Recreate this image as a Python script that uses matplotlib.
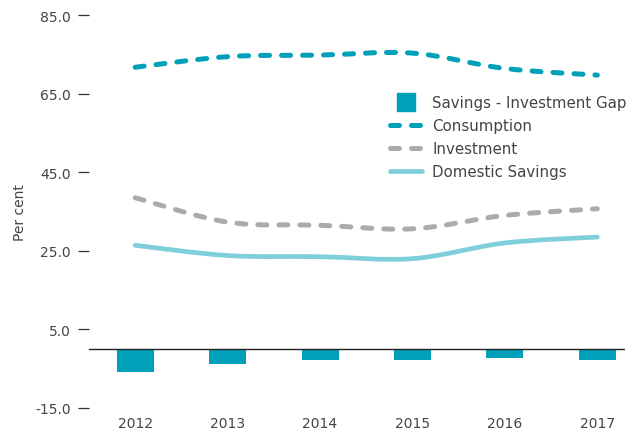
import numpy as np
import matplotlib.pyplot as plt
from matplotlib.path import Path
from matplotlib.patches import PathPatch
from matplotlib.lines import Line2D

years = ['2012', '2013', '2014', '2015', '2016', '2017']
consumption = [71.7, 74.4, 74.8, 75.3, 71.4, 69.7]
investment = [38.5, 32.3, 31.5, 30.6, 34.0, 35.7]
domestic_savings = [26.4, 23.8, 23.5, 23.0, 27.0, 28.5]
gap = [-5.9, -3.7, -2.8, -2.8, -2.3, -2.8]

TEAL = '#00A0B8'
GREY = '#ABABAB'
LIGHT = '#7ECFDA'
TEXT = '#444444'


def smooth_path(x, y):
    # catmull-rom segments turned into cubic bezier pieces
    pts = np.column_stack([x, y]).astype(float)
    n = len(pts)
    verts = [pts[0]]
    codes = [Path.MOVETO]
    for i in range(n - 1):
        p0 = pts[max(i - 1, 0)]
        p1 = pts[i]
        p2 = pts[i + 1]
        p3 = pts[min(i + 2, n - 1)]
        c1 = p1 + (p2 - p0) / 6.0
        c2 = p2 - (p3 - p1) / 6.0
        verts += [c1, c2, p2]
        codes += [Path.CURVE4] * 3
    return Path(verts, codes)


def draw_curve(ax, x, y, color, lw, dashed):
    patch = PathPatch(smooth_path(x, y), fill=False, edgecolor=color,
                      linewidth=lw, capstyle='round', joinstyle='round')
    if dashed:
        patch.set_linestyle((0, (1.8, 2.4)))
    ax.add_patch(patch)


fig = plt.figure(figsize=(6.4, 4.31), dpi=100)
ax = fig.add_axes([89 / 640, 22 / 431, 536 / 640, 393 / 431])

x = np.arange(len(years))
ax.bar(x, gap, width=0.4, color=TEAL, zorder=2)
ax.axhline(0, color='#222222', linewidth=1.0, zorder=3)

draw_curve(ax, x, consumption, TEAL, 3.6, True)
draw_curve(ax, x, investment, GREY, 3.6, True)
draw_curve(ax, x, domestic_savings, LIGHT, 3.4, False)

ax.set_xlim(-0.5, 5.3)
ax.set_ylim(-15, 85)
ax.set_yticks([-15, 5, 25, 45, 65, 85])
ax.set_yticklabels(['%.1f' % v for v in [-15, 5, 25, 45, 65, 85]])
ax.set_xticks(x)
ax.set_xticklabels(years)
for s in ax.spines.values():
    s.set_visible(False)
ax.tick_params(axis='y', length=8, width=0.9, color='#333333', pad=5,
               labelsize=10, labelcolor=TEXT)
ax.tick_params(axis='x', length=0, pad=6, labelsize=10, labelcolor=TEXT)
ax.set_ylabel('Per cent', fontsize=10, color=TEXT, labelpad=6)

handles = [
    Line2D([], [], linestyle='none', marker='s', markersize=12.5,
           color=TEAL),
    Line2D([], [], color=TEAL, linewidth=3.6, dashes=(1.8, 2.4),
           dash_capstyle='round'),
    Line2D([], [], color=GREY, linewidth=3.6, dashes=(1.8, 2.4),
           dash_capstyle='round'),
    Line2D([], [], color=LIGHT, linewidth=3.4, solid_capstyle='round'),
]
labels = ['Savings - Investment Gap', 'Consumption', 'Investment',
          'Domestic Savings']
leg = fig.legend(handles, labels, loc='upper left',
                 bbox_to_anchor=(390 / 640, 1 - 96 / 431), frameon=False,
                 fontsize=10.8, handlelength=2.13, handletextpad=0.67,
                 labelspacing=0.53, borderaxespad=0, borderpad=0)
for t in leg.get_texts():
    t.set_color(TEXT)

fig.savefig('out.png', dpi=100)
